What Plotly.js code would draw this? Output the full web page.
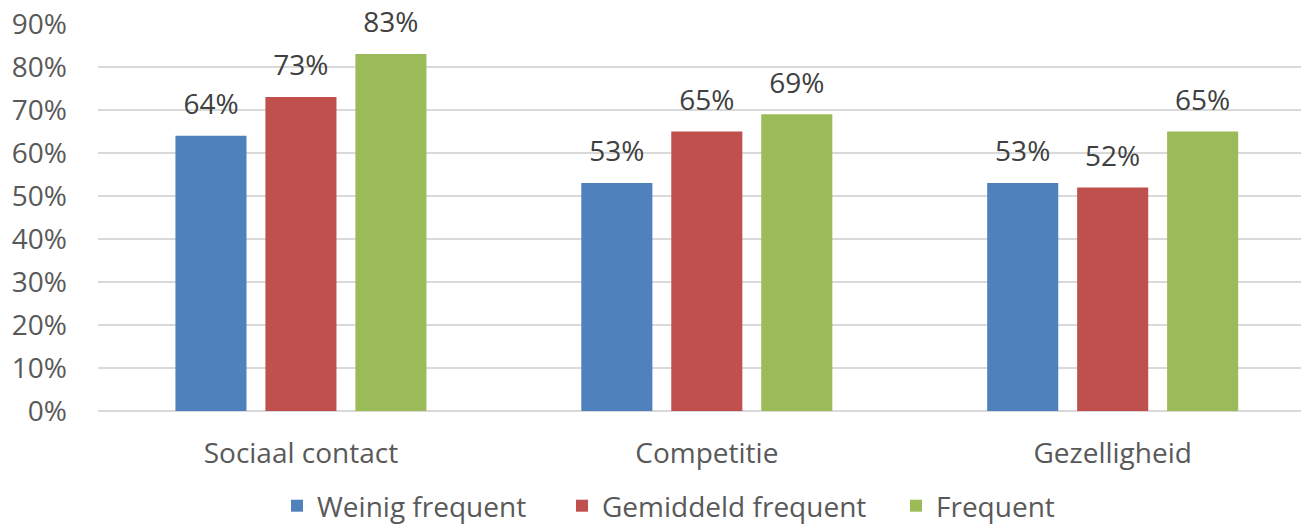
<!DOCTYPE html>
<html><head><meta charset="utf-8">
<script src="https://cdn.plot.ly/plotly-3.0.1.min.js"></script>
<style>html,body{margin:0;padding:0;background:#fff}#chart{width:1301px;height:531px}</style>
</head><body><div id="chart"></div>
<script>
const categories = ["Sociaal contact", "Competitie", "Gezelligheid"];
const seriesNames = ["Weinig frequent", "Gemiddeld frequent", "Frequent"];
const weinig = [0.64, 0.53, 0.53];
const gemiddeld = [0.73, 0.65, 0.52];
const frequent = [0.83, 0.69, 0.65];
const colors = ["#4F81BD", "#C0504D", "#9BBB59"];
const yTickVals = [0, 0.1, 0.2, 0.3, 0.4, 0.5, 0.6, 0.7, 0.8, 0.9];

const FONT = "Open Sans, sans-serif";
const values = [weinig, gemiddeld, frequent];
const legendIds = ["legend", "legend2", "legend3"];
const legendX = [277, 562, 896];
const traces = [];
values.forEach((v, i) => {
  traces.push({
    type: "bar", name: seriesNames[i], x: categories, y: v,
    marker: {color: colors[i]}, offsetgroup: String(i), hoverinfo: "skip",
    legend: legendIds[i]
  });
});
values.forEach((v, i) => {
  traces.push({
    type: "scatter", mode: "markers+text", x: categories, y: v,
    text: v.map(d => Math.round(d * 100) + "%"), textposition: "top center",
    textfont: {family: FONT, size: 28, color: "#404040"},
    marker: {size: 22, opacity: 0}, showlegend: false, hoverinfo: "skip",
    offsetgroup: String(i), cliponaxis: false
  });
});

function mkLegend(px) {
  return {
    orientation: "h", xref: "container", yref: "container",
    x: px / 1301, xanchor: "left", y: -0.012, yanchor: "bottom",
    font: {family: FONT, size: 28, color: "#595959"}, itemwidth: 30,
    bgcolor: "rgba(0,0,0,0)"
  };
}

const layout = {
  width: 1301, height: 531,
  margin: {l: 98, r: 0, t: 24, b: 120},
  paper_bgcolor: "#fff", plot_bgcolor: "#fff",
  barmode: "group", bargap: 0.335, bargroupgap: 0.21,
  scattermode: "group", scattergap: 0.335,
  font: {family: FONT, color: "#595959", size: 28},
  xaxis: {
    type: "category", range: [-0.5, 2.464], showgrid: false, zeroline: false,
    showline: false, ticks: "", tickfont: {family: FONT, size: 28, color: "#595959"},
    ticklabelstandoff: 23
  },
  yaxis: {
    range: [0, 0.9], tickvals: yTickVals, tickformat: ".0%",
    showgrid: true, gridcolor: "#d9d9d9", gridwidth: 1.5, zeroline: true,
    zerolinecolor: "#d9d9d9", zerolinewidth: 1.5, showline: false, ticks: "",
    tickfont: {family: FONT, size: 28, color: "#595959"}, ticklabelstandoff: 30
  },
  showlegend: true,
  legend: mkLegend(legendX[0]),
  legend2: mkLegend(legendX[1]),
  legend3: mkLegend(legendX[2])
};
Plotly.newPlot("chart", traces, layout, {displayModeBar: false, staticPlot: true});
</script></body></html>
